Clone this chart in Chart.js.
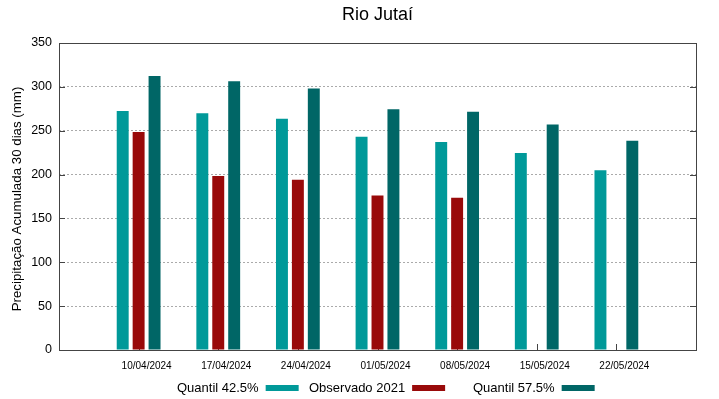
<!DOCTYPE html>
<html>
<head>
<meta charset="utf-8">
<script src="https://cdn.jsdelivr.net/npm/chart.js@4.4.1/dist/chart.umd.min.js"></script>
<style>
  html, body { margin: 0; padding: 0; background: #fff; }
  #wrap { width: 719px; height: 399px; position: relative; }
</style>
</head>
<body>
<div id="wrap"><canvas id="c" width="719" height="399"></canvas></div>
<script>
const chartTitle = 'Rio Jutaí';
const yTitle = 'Precipitação Acumulada 30 dias (mm)';
const categories = ['10/04/2024', '17/04/2024', '24/04/2024', '01/05/2024', '08/05/2024', '15/05/2024', '22/05/2024'];
const seriesNames = ['Quantil 42.5%', 'Observado 2021', 'Quantil 57.5%'];
const quantil425 = [272.5, 270, 263.5, 243, 237, 224.5, 205];
const observado2021 = [248.5, 198.5, 194, 176, 173.5, null, null];
const quantil575 = [312.5, 306.5, 298, 274.5, 271.5, 257, 238.5];
const yTicks = [0, 50, 100, 150, 200, 250, 300, 350];
const colors = ['#009999', '#990a0a', '#006666'];

// pad one empty slot at each end (the reference leaves one category width empty at each side)
const labels = [''].concat(categories, ['']);
const pad = arr => [null].concat(arr, [null]);

const FONT = "'Liberation Sans', Arial, sans-serif";

const framePlugin = {
  id: 'frame',
  beforeDatasetsDraw(chart) {
    const ctx = chart.ctx;
    const a = chart.chartArea;
    const xs = chart.scales.x, ys = chart.scales.y;
    ctx.save();
    ctx.strokeStyle = '#444';
    ctx.lineWidth = 1;
    // tick marks (inward), drawn behind the bars
    ctx.beginPath();
    yTicks.forEach(v => {
      const y = Math.round(ys.getPixelForValue(v)) + 0.5;
      ctx.moveTo(a.left, y); ctx.lineTo(a.left + 6, y);
      ctx.moveTo(a.right, y); ctx.lineTo(a.right - 6, y);
    });
    categories.forEach((c, i) => {
      const x = Math.round(xs.getPixelForValue(i + 1)) + 0.5;
      ctx.moveTo(x, a.bottom); ctx.lineTo(x, a.bottom - 6);
    });
    ctx.stroke();
    ctx.restore();
  },
  afterDraw(chart) {
    const ctx = chart.ctx;
    const a = chart.chartArea;
    ctx.save();
    ctx.strokeStyle = '#444';
    ctx.lineWidth = 1;
    ctx.strokeRect(Math.round(a.left) + 0.5, Math.round(a.top) + 0.5,
                   Math.round(a.right - a.left), Math.round(a.bottom - a.top));
    // title
    ctx.fillStyle = '#000';
    ctx.font = '18px ' + FONT;
    ctx.textAlign = 'center';
    ctx.textBaseline = 'middle';
    ctx.fillText(chartTitle, (a.left + a.right) / 2, 15);
    // y title
    ctx.save();
    ctx.translate(17, 199);
    ctx.rotate(-Math.PI / 2);
    ctx.font = '13.3px ' + FONT;
    ctx.fillText(yTitle, 0, 0);
    ctx.restore();
    // legend (text then swatch)
    ctx.font = '13px ' + FONT;
    ctx.textAlign = 'left';
    const legendX = [177, 309, 473];
    const ly = 388;
    seriesNames.forEach((name, i) => {
      const w = ctx.measureText(name).width;
      ctx.fillStyle = '#000';
      ctx.fillText(name, legendX[i], ly);
      ctx.fillStyle = colors[i];
      ctx.fillRect(legendX[i] + w + 7, ly - 3, 33, 6);
    });
    ctx.restore();
  }
};

new Chart(document.getElementById('c'), {
  type: 'bar',
  data: {
    labels: labels,
    datasets: [
      { label: seriesNames[0], data: pad(quantil425), backgroundColor: colors[0] },
      { label: seriesNames[1], data: pad(observado2021), backgroundColor: colors[1] },
      { label: seriesNames[2], data: pad(quantil575), backgroundColor: colors[2] }
    ]
  },
  options: {
    responsive: false,
    animation: false,
    devicePixelRatio: 1,
    layout: { padding: { top: 43, right: 23, bottom: 0, left: 0 } },
    datasets: { bar: { categoryPercentage: 0.6, barPercentage: 0.75 } },
    plugins: { legend: { display: false }, title: { display: false }, tooltip: { enabled: false } },
    scales: {
      x: {
        offset: false,
        grid: { display: false, drawTicks: false },
        border: { display: false },
        ticks: { font: { family: FONT, size: 10 }, color: '#000', padding: 10, labelOffset: 8, maxRotation: 0, autoSkip: false },
        afterFit: s => { s.height = 49; }
      },
      y: {
        min: 0, max: 350,
        grid: { color: '#aaa', lineWidth: 1, drawTicks: false },
        border: { display: false, dash: [2, 2] },
        ticks: { stepSize: 50, font: { family: FONT, size: 12.5 }, color: '#000', padding: 7 },
        afterFit: s => { s.width = 59; }
      }
    }
  },
  plugins: [framePlugin]
});
</script>
</body>
</html>
